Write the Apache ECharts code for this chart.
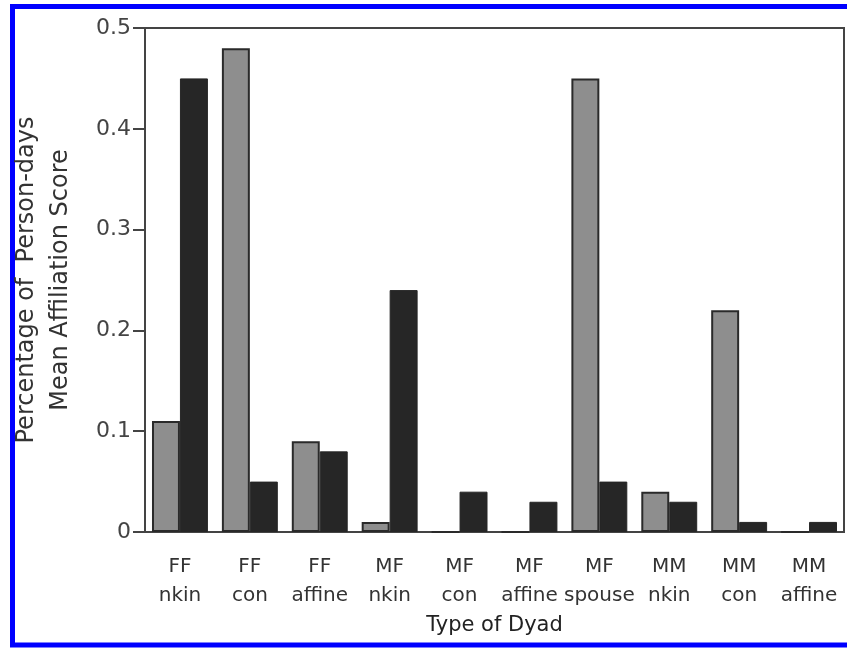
<!DOCTYPE html>
<html lang="en">
<head>
    <meta charset="utf-8">
    <title>Type of Dyad</title>
    <script src="https://cdn.jsdelivr.net/npm/echarts@6/dist/echarts.min.js"></script>
    <style>
        html, body { margin: 0; padding: 0; background: #fff; }
        #chart { width: 847px; height: 648px; }
    </style>
</head>
<body>
<div id="chart"></div>
<script type="text/javascript">
    // categories (two-line labels)
    var dyads = ['FF\nnkin', 'FF\ncon', 'FF\naffine', 'MF\nnkin', 'MF\ncon',
                 'MF\naffine', 'MF\nspouse', 'MM\nnkin', 'MM\ncon', 'MM\naffine'];
    // grey bars: percentage of person-days
    var pctPersonDays = [0.11, 0.48, 0.09, 0.01, 0, 0, 0.45, 0.04, 0.22, 0];
    // black bars: mean affiliation score
    var meanAffiliation = [0.45, 0.05, 0.08, 0.24, 0.04, 0.03, 0.05, 0.03, 0.01, 0.01];
    var yTicks = [0, 0.1, 0.2, 0.3, 0.4, 0.5];

    var font = 'DejaVu Sans';
    var chart = echarts.init(document.getElementById('chart'));

    var option = {
        animation: false,
        grid: {
            left: 145, top: 28, width: 699, height: 504,
            show: true, borderColor: '#444', borderWidth: 2, backgroundColor: 'transparent'
        },
        xAxis: {
            type: 'category',
            data: dyads,
            name: 'Type of Dyad',
            nameLocation: 'middle',
            nameGap: 83,
            nameTextStyle: { fontFamily: font, fontSize: 21, color: '#222' },
            axisLine: { lineStyle: { color: '#444', width: 2 } },
            axisTick: { alignWithLabel: true, length: 16, lineStyle: { color: '#444', width: 2 } },
            axisLabel: { fontFamily: font, fontSize: 20, color: '#333', lineHeight: 29, margin: 20, interval: 0 }
        },
        yAxis: {
            type: 'value',
            min: yTicks[0],
            max: yTicks[yTicks.length - 1],
            interval: 0.1,
            name: 'Percentage of  Person-days\nMean Affiliation Score',
            nameLocation: 'middle',
            nameGap: 67,
            nameTextStyle: { fontFamily: font, fontSize: 24, color: '#333', lineHeight: 34 },
            splitLine: { show: false },
            axisLine: { show: true, lineStyle: { color: '#444', width: 2 } },
            axisTick: { show: true, length: 12, lineStyle: { color: '#444', width: 2 } },
            axisLabel: {
                fontFamily: font, fontSize: 22, color: '#444', margin: 14,
                formatter: function (v) { return v === 0 ? '0' : v.toFixed(1); }
            }
        },
        series: [
            {
                name: 'Percentage of Person-days',
                type: 'bar',
                data: pctPersonDays,
                barGap: '0%',
                barCategoryGap: '20%',
                itemStyle: { color: '#8e8e8e', borderColor: '#2a2a2a', borderWidth: 2 }
            },
            {
                name: 'Mean Affiliation Score',
                type: 'bar',
                data: meanAffiliation,
                barGap: '0%',
                barCategoryGap: '20%',
                itemStyle: { color: '#262626', borderColor: '#262626', borderWidth: 1 }
            }
        ],
        graphic: [
            {
                type: 'rect',
                shape: { x: 12.5, y: 6.5, width: 900, height: 638.5 },
                style: { fill: 'none', stroke: '#0000ff', lineWidth: 5 },
                silent: true
            }
        ]
    };

    chart.setOption(option);
</script>
</body>
</html>
